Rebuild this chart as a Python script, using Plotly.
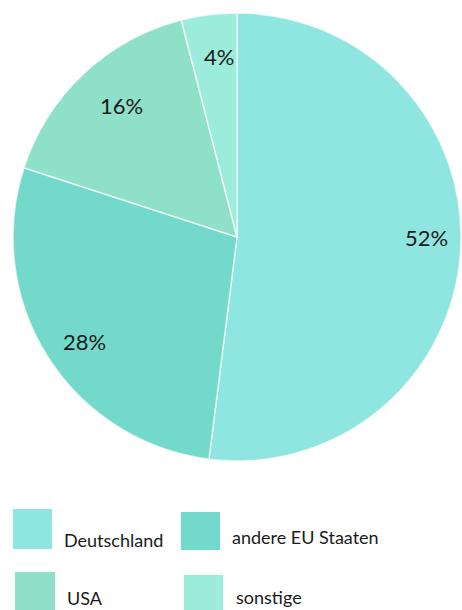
import math
import plotly.graph_objects as go

# Data
categories = ["Deutschland", "andere EU Staaten", "USA", "sonstige"]
shares = [52, 28, 16, 4]
colors = ["#8fe5df", "#73dacb", "#8ee0c8", "#9cecdc"]

W, H = 462, 610
# pie geometry in pixels
cx, cy, R = 237, 237, 224


def px_x(x):
    return x / W


def px_y(y):
    return 1 - y / H


fig = go.Figure()
fig.add_trace(go.Pie(
    labels=categories,
    values=shares,
    marker=dict(colors=colors, line=dict(color="rgba(255,255,255,0.7)", width=1.5)),
    sort=False,
    direction="clockwise",
    rotation=0,
    textinfo="none",
    hoverinfo="label+percent",
    showlegend=False,
    domain=dict(x=[px_x(cx - R), px_x(cx + R)], y=[px_y(cy + R), px_y(cy - R)]),
))

annotations = []
# percentage labels placed near each slice's mid angle
total = sum(shares)
start = 0.0
label_r = [0.848, 0.825, 0.781, 0.812]
label_turn = [-3.3, -2.2, 2.1, 1.5]  # degrees relative to the mid angle
for v, lr, turn in zip(shares, label_r, label_turn):
    mid = (start + v / 2) / total * 2 * math.pi + math.radians(turn)
    start += v
    lx = cx + lr * R * math.sin(mid)
    ly = cy - lr * R * math.cos(mid)
    annotations.append(dict(
        x=px_x(lx), y=px_y(ly), xref="paper", yref="paper",
        text=f"{round(v / total * 100)}%", showarrow=False,
        font=dict(family="Lato, sans-serif", size=22, color="#1a1a1a"),
        xanchor="center", yanchor="middle",
    ))

# custom legend: swatch box (x0, y0, x1, y1) and label anchor (x, y) in pixels
legend_boxes = [(13, 509, 52, 549), (181, 512, 220, 550), (15, 572, 55, 612), (184, 575, 223, 615)]
legend_text = [(62, 540), (230, 537), (65, 598), (234, 597)]
shapes = []
for name, col, (x0, y0, x1, y1), (tx, ty) in zip(categories, colors, legend_boxes, legend_text):
    shapes.append(dict(type="rect", xref="paper", yref="paper",
                       x0=px_x(x0), x1=px_x(x1), y0=px_y(y1), y1=px_y(y0),
                       fillcolor=col, line=dict(width=0)))
    annotations.append(dict(
        x=px_x(tx), y=px_y(ty), xref="paper", yref="paper",
        text=name, showarrow=False,
        font=dict(family="Lato, sans-serif", size=18, color="#1a1a1a"),
        xanchor="left", yanchor="middle",
    ))

fig.update_layout(
    width=W, height=H,
    margin=dict(l=0, r=0, t=0, b=0),
    paper_bgcolor="white",
    plot_bgcolor="white",
    annotations=annotations,
    shapes=shapes,
)

fig.write_html("out.html")
